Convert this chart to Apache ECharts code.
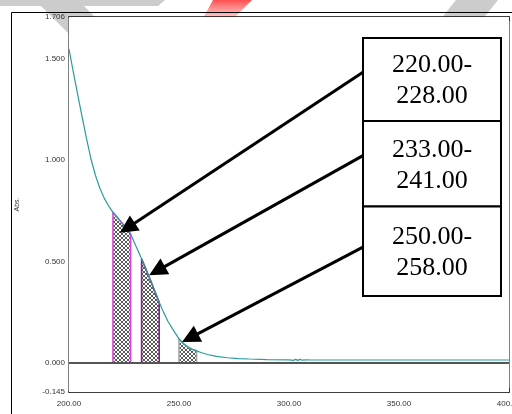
<!DOCTYPE html>
<html>
<head>
<meta charset="utf-8">
<script src="https://cdn.jsdelivr.net/npm/echarts@6/dist/echarts.min.js"></script>
<style>
  html, body { margin: 0; padding: 0; background: #fff; }
  #chart { width: 512px; height: 414px; }
</style>
</head>
<body>
<div id="chart"></div>
<script>
// UV absorption spectrum (nm vs Abs.)
const wavelength = [200, 201, 202, 204, 206, 208, 210, 212, 214, 216, 218, 220, 222, 224, 226, 228,
  230, 232, 233, 235, 237, 239, 241, 243, 245, 247, 250, 252, 254, 256, 258, 260, 263, 267, 272,
  277, 282, 290, 300, 302, 303, 304, 305, 306, 308, 310, 320, 340, 360, 380, 400];
const absorbance = [1.548, 1.49, 1.433, 1.32, 1.21, 1.104, 1.005, 0.925, 0.862, 0.812, 0.774, 0.742,
  0.716, 0.690, 0.663, 0.635, 0.586, 0.537, 0.512, 0.460, 0.407, 0.352, 0.298, 0.248, 0.203, 0.168,
  0.117, 0.094, 0.077, 0.066, 0.058, 0.050, 0.040, 0.031, 0.024, 0.020, 0.018, 0.015, 0.014, 0.011,
  0.016, 0.011, 0.016, 0.012, 0.014, 0.013, 0.013, 0.013, 0.013, 0.013, 0.013];

// Integration windows and their outline colours
const bandRanges = [[220, 228], [233, 241], [250, 258]];
const bandColors = ['#e23ee2', '#8a1f8a', '#a6a6a6'];

// Callout arrows: from the label box edge to the band
const arrowFrom = [[333.6, 1.433], [333.6, 1.022], [333.6, 0.570]];
const arrowTo = [[226.5, 0.665], [240.0, 0.453], [255.0, 0.122]];

// Axis ticks
const yLabelValues = [-0.145, 0, 0.5, 1.0, 1.5, 1.706];
const yTickValues = [0, 0.5, 1.0, 1.5];

const spectrum = wavelength.map((w, i) => [w, absorbance[i]]);

function hatchPattern() {
  const c = document.createElement('canvas');
  c.width = 4; c.height = 4;
  const g = c.getContext('2d');
  g.fillStyle = '#ffffff';
  g.fillRect(0, 0, 4, 4);
  g.fillStyle = '#5a5a5a';
  for (let i = 0; i < 4; i++) {
    g.fillRect(i, i, 1, 1);
    g.fillRect(3 - i, i, 1, 1);
  }
  return c;
}
const hatch = { image: hatchPattern(), repeat: 'repeat' };

const bandSeries = bandRanges.map(([a, b], k) => ({
  type: 'line',
  data: [[a, 0]].concat(spectrum.filter(p => p[0] >= a && p[0] <= b)).concat([[b, 0]]),
  symbol: 'none',
  silent: true,
  z: 3,
  lineStyle: { color: bandColors[k], width: 1.6 },
  areaStyle: { color: hatch, opacity: 1, origin: 0 }
}));

const font = 'Liberation Sans, Arial, sans-serif';
const chart = echarts.init(document.getElementById('chart'), null, { renderer: 'canvas' });

// Label boxes (pixel layout on the right of the plot)
const boxLeft = 363, boxWidth = 138;
const boxTops = [38, 121, 206.5];
const boxBottoms = [121, 206.5, 296];
const boxGraphics = [];
bandRanges.forEach(([a, b], k) => {
  boxGraphics.push({
    type: 'rect', z: 100,
    shape: { x: boxLeft, y: boxTops[k], width: boxWidth, height: boxBottoms[k] - boxTops[k] },
    style: { fill: '#fff', stroke: '#000', lineWidth: 2 }
  });
  boxGraphics.push({
    type: 'text', z: 101,
    x: boxLeft + boxWidth / 2, y: (boxTops[k] + boxBottoms[k]) / 2 + 1.5,
    style: {
      text: a.toFixed(2) + '-\n' + b.toFixed(2),
      font: '26px "Liberation Serif", "Times New Roman", serif',
      lineHeight: 31,
      fill: '#000',
      align: 'center',
      verticalAlign: 'middle'
    }
  });
});

const option = {
  animation: false,
  backgroundColor: '#fff',
  grid: {
    left: 69, right: 3, top: 17, bottom: 22,
    containLabel: false, outerBoundsMode: 'none',
    show: true, backgroundColor: '#fff', borderWidth: 0, z: 1
  },
  graphic: [
    // decorative page stripes along the top edge
    { type: 'polygon', z: -5, shape: { points: [[0, 0], [165, 0], [158, 6], [0, 6]] }, style: { fill: '#cccccc' } },
    { type: 'polygon', z: -5, shape: { points: [[40, 5], [83, 5], [120, 42], [77, 42]] }, style: { fill: '#cccccc' } },
    { type: 'polygon', z: -5, shape: { points: [[456, 0], [498, 0], [482, 20], [440, 20]] }, style: { fill: '#cccccc' } },
    {
      type: 'polygon', z: -5, shape: { points: [[213, 0], [252, 0], [232, 20], [202, 20]] },
      style: {
        fill: new echarts.graphic.LinearGradient(0, 0, 0, 1, [
          { offset: 0, color: 'rgba(255,70,70,0.95)' },
          { offset: 1, color: 'rgba(255,170,170,0.55)' }
        ])
      }
    },
    // outer frame
    { type: 'polyline', z: -1, shape: { points: [[11.5, 414], [11.5, 12.5], [512, 12.5]] }, style: { stroke: '#000', lineWidth: 1, fill: null } }
  ].concat(boxGraphics),
  xAxis: [
    {
      type: 'value', min: 200, max: 400, interval: 50, position: 'bottom',
      name: 'nm', nameLocation: 'middle', nameGap: 17,
      nameTextStyle: { fontSize: 8, fontFamily: font, color: '#333' },
      axisLine: { onZero: false, lineStyle: { color: '#000', width: 1.5 } },
      axisTick: { inside: true, length: 4, lineStyle: { color: '#333' } },
      axisLabel: { fontSize: 8, fontFamily: font, color: '#333', margin: 8, showMaxLabel: true, showMinLabel: true,
        hideOverlap: false, formatter: v => v.toFixed(2) },
      splitLine: { show: false }
    },
    {
      type: 'value', min: 200, max: 400, interval: 50, position: 'top',
      axisLine: { onZero: false, lineStyle: { color: '#000', width: 1.5 } },
      axisTick: { inside: true, length: 4, lineStyle: { color: '#333' } },
      axisLabel: { show: false },
      splitLine: { show: false }
    }
  ],
  yAxis: [
    {
      type: 'value', min: -0.145, max: 1.706, position: 'left',
      name: 'Abs.', nameLocation: 'middle', nameGap: 48, nameRotate: 90,
      nameTextStyle: { fontSize: 7, fontFamily: font, color: '#333' },
      axisLine: { onZero: false, lineStyle: { color: '#808080', width: 2 } },
      axisTick: { inside: true, length: 4, customValues: yTickValues, lineStyle: { color: '#333' } },
      axisLabel: { fontSize: 8, fontFamily: font, color: '#333', margin: 4, customValues: yLabelValues,
        formatter: v => v.toFixed(3) },
      splitLine: { show: false }
    },
    {
      type: 'value', min: -0.145, max: 1.706, position: 'right',
      axisLine: { onZero: false, lineStyle: { color: '#808080', width: 2 } },
      axisTick: { inside: true, length: 4, customValues: yTickValues, lineStyle: { color: '#333' } },
      axisLabel: { show: false },
      splitLine: { show: false }
    }
  ],
  series: [
    {
      type: 'line',
      data: spectrum,
      symbol: 'none',
      silent: true,
      z: 4,
      lineStyle: { color: '#2a9c9c', width: 1.2 },
      markLine: {
        silent: true,
        symbol: 'none',
        label: { show: false },
        lineStyle: { color: '#555', width: 2, type: 'solid' },
        data: [{ yAxis: 0 }]
      }
    }
  ].concat(bandSeries).concat([
    {
      type: 'lines',
      coordinateSystem: 'cartesian2d',
      silent: true,
      z: 6,
      symbol: ['none', 'triangle'],
      symbolSize: [14, 18],
      lineStyle: { color: '#000', width: 3, opacity: 1 },
      data: arrowFrom.map((f, i) => ({ coords: [f, arrowTo[i]] }))
    }
  ])
};
chart.setOption(option);
</script>
</body>
</html>
